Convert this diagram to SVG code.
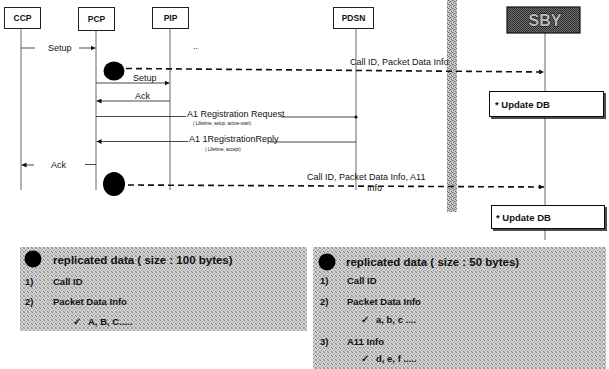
<svg xmlns="http://www.w3.org/2000/svg" width="609" height="369" viewBox="0 0 609 369">
<style>
.box{fill:#fff;stroke:#222;stroke-width:1}
.lbl{font-family:"Liberation Sans",Arial,sans-serif;font-weight:bold;font-size:8.5px;fill:#111}
.msg{font-family:"Liberation Sans",Arial,sans-serif;font-size:9px;fill:#111}
.sub{font-family:"Liberation Sans",Arial,sans-serif;font-size:4.5px;fill:#111}
.life{stroke:#555;stroke-width:0.9;fill:none}
.ln{stroke:#333;stroke-width:0.9;fill:none}
.dash{stroke:#111;stroke-width:1.6;stroke-dasharray:6 4;fill:none}
.pt{font-family:"Liberation Sans",Arial,sans-serif;font-weight:bold;font-size:9.5px;fill:#111}
.pttl{font-family:"Liberation Sans",Arial,sans-serif;font-weight:bold;font-size:11.5px;fill:#111}
.upd{font-family:"Liberation Sans",Arial,sans-serif;font-weight:bold;font-size:9.5px;fill:#111}
</style>
<defs>
<pattern id="stip" width="4" height="4" patternUnits="userSpaceOnUse"><rect width="4" height="4" fill="#d4d4d4"/><rect x="0" y="0" width="1" height="1" fill="#8e8e8e"/><rect x="2" y="1" width="1" height="1" fill="#9c9c9c"/><rect x="1" y="2" width="1" height="1" fill="#949494"/><rect x="3" y="3" width="1" height="1" fill="#8a8a8a"/><rect x="3" y="0" width="1" height="1" fill="#b0b0b0"/><rect x="0" y="3" width="1" height="1" fill="#b4b4b4"/></pattern>
<pattern id="stipD" width="4" height="4" patternUnits="userSpaceOnUse"><rect width="4" height="4" fill="#cccccc"/><rect x="0" y="0" width="1" height="1" fill="#6e6e6e"/><rect x="2" y="1" width="1" height="1" fill="#787878"/><rect x="1" y="2" width="1" height="1" fill="#727272"/><rect x="3" y="3" width="1" height="1" fill="#686868"/><rect x="3" y="1" width="1" height="1" fill="#909090"/><rect x="1" y="0" width="1" height="1" fill="#949494"/></pattern>
<pattern id="stipX" width="2" height="2" patternUnits="userSpaceOnUse"><rect width="2" height="2" fill="#707070"/><rect width="1" height="1" fill="#2a2a2a"/><rect x="1" y="1" width="1" height="1" fill="#333"/></pattern>
<marker id="ah" viewBox="0 0 10 10" refX="10" refY="5" markerWidth="5" markerHeight="5" orient="auto" markerUnits="userSpaceOnUse"><path d="M0,0 L10,5 L0,10 z" fill="#111"/></marker>
<filter id="sh" x="-10%" y="-10%" width="130%" height="150%"><feDropShadow dx="2" dy="2" stdDeviation="0.3" flood-color="#222" flood-opacity="0.8"/></filter>
</defs>
<rect width="609" height="369" fill="#fff"/>

<rect x="447" y="0" width="10" height="212" fill="url(#stipD)"/>

<g id="lifelines">
<line class="life" x1="21" y1="29" x2="21" y2="190"/>
<line class="life" x1="96" y1="31" x2="96" y2="190"/>
<line class="life" x1="170" y1="29" x2="170" y2="190"/>
<line class="life" x1="356" y1="29" x2="356" y2="190"/>
<line class="life" x1="545" y1="33" x2="545" y2="240"/>
</g>

<g id="CCP"><rect class="box" x="4.5" y="7.5" width="36" height="21"/><text class="lbl" x="22.5" y="21" text-anchor="middle">CCP</text></g>
<g id="PCP"><rect class="box" x="78.5" y="7.5" width="36" height="23" stroke-width="2.2"/><text class="lbl" x="96.5" y="22" text-anchor="middle">PCP</text></g>
<g id="PIP"><rect class="box" x="152.5" y="7.5" width="36" height="21"/><text class="lbl" x="170.5" y="21" text-anchor="middle">PIP</text></g>
<g id="PDSN"><rect class="box" x="333.5" y="7.5" width="40" height="21"/><text class="lbl" x="353.5" y="21" text-anchor="middle">PDSN</text></g>
<g id="SBY"><rect x="507" y="7" width="73" height="26" fill="url(#stipX)" stroke="#111" stroke-width="1.2"/><text x="545" y="26" text-anchor="middle" font-family="Liberation Sans, Arial, sans-serif" font-weight="bold" font-size="16" fill="#bdbdbd" stroke="#000" stroke-width="0.9" paint-order="stroke">SBY</text></g>

<g id="connectors">
<line class="ln" x1="21" y1="48" x2="35" y2="48"/>
<line class="ln" x1="79" y1="48" x2="95.5" y2="48" marker-end="url(#ah)"/>
<line class="ln" x1="96" y1="83" x2="169.5" y2="83" marker-end="url(#ah)"/>
<line class="ln" x1="170" y1="101" x2="96.5" y2="101" marker-end="url(#ah)"/>
<line class="ln" x1="96" y1="116.5" x2="186" y2="116.5"/>
<line class="ln" x1="281" y1="117" x2="356" y2="117"/>
<circle cx="356" cy="117" r="1.6" fill="#111"/>
<line class="ln" x1="188" y1="141.5" x2="96.5" y2="141.5" marker-end="url(#ah)"/>
<line class="ln" x1="270" y1="142" x2="356" y2="142"/>
<polyline class="ln" points="85,164.5 96,164.5"/>
<line class="ln" x1="34" y1="165" x2="21.5" y2="165" marker-end="url(#ah)"/>
<line class="dash" x1="126" y1="68.5" x2="544" y2="72" marker-end="url(#ah)"/>
<line class="dash" x1="128" y1="185" x2="544" y2="187" marker-end="url(#ah)"/>
</g>

<g id="rep1"><ellipse cx="114" cy="71" rx="10.5" ry="9.5" fill="#000"/></g>
<g id="rep2"><ellipse cx="114" cy="184" rx="11" ry="12" fill="#000"/></g>

<g id="labels">
<text class="msg" x="48" y="51">Setup</text>
<text class="msg" x="193" y="49" font-size="6">..</text>
<text class="msg" x="350" y="65">Call ID, Packet Data Info</text>
<text class="msg" x="133" y="81">Setup</text>
<text class="msg" x="135" y="98.5">Ack</text>
<text class="msg" x="187" y="117" font-size="8.5">A1 Registration Request</text>
<text class="sub" x="193" y="125">( Lifetime, setup, active-start)</text>
<text class="msg" x="189" y="142" font-size="8.5">A1 1RegistrationReply</text>
<text class="sub" x="205" y="150.5">( Lifetime, accept)</text>
<text class="msg" x="51" y="168">Ack</text>
<text class="msg" x="307" y="180">Call ID, Packet Data Info, A11</text>
<text class="msg" x="367" y="190.5">Info</text>
</g>

<g id="upd1"><rect x="489.5" y="91.5" width="114" height="25" fill="#fff" stroke="#111" stroke-width="1" filter="url(#sh)"/><text class="upd" x="495" y="108">* Update DB</text></g>
<g id="upd2"><rect x="491.5" y="205.5" width="113" height="23" fill="#fff" stroke="#111" stroke-width="1" filter="url(#sh)"/><text class="upd" x="496" y="221">* Update DB</text></g>

<g id="legend100">
<rect x="20" y="247" width="287" height="84" fill="url(#stip)"/>
<circle cx="33" cy="259" r="8.5" fill="#000"/>
<text class="pttl" x="53" y="264">replicated data ( size : 100 bytes)</text>
<text class="pt" x="25" y="285">1)</text><text class="pt" x="53" y="285">Call ID</text>
<text class="pt" x="25" y="305">2)</text><text class="pt" x="53" y="305">Packet Data Info</text>
<text class="pt" x="73" y="325">✓</text><text class="pt" x="88" y="325">A, B, C.....</text>
</g>

<g id="legend50">
<rect x="313" y="247" width="293" height="122" fill="url(#stip)"/>
<circle cx="327" cy="262" r="8.5" fill="#000"/>
<text class="pttl" x="346" y="266">replicated data ( size : 50 bytes)</text>
<text class="pt" x="320" y="284">1)</text><text class="pt" x="347" y="284">Call ID</text>
<text class="pt" x="320" y="305">2)</text><text class="pt" x="347" y="305">Packet Data Info</text>
<text class="pt" x="361" y="323">✓</text><text class="pt" x="376" y="323">a, b, c ....</text>
<text class="pt" x="320" y="345">3)</text><text class="pt" x="347" y="345">A11 Info</text>
<text class="pt" x="361" y="362">✓</text><text class="pt" x="376" y="362">d, e, f .....</text>
</g>
</svg>
